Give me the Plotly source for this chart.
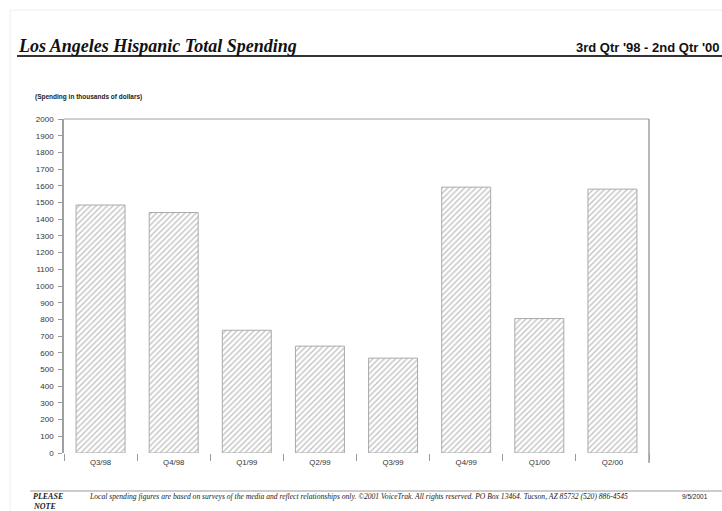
import plotly.graph_objects as go

categories = ["Q3/98", "Q4/98", "Q1/99", "Q2/99", "Q3/99", "Q4/99", "Q1/00", "Q2/00"]
spending = [1485, 1440, 735, 640, 568, 1592, 805, 1580]
y_ticks = list(range(0, 2001, 100))

W, H = 722, 511
L, R, T, B = 64, 73, 119, 58
PW, PH = W - L - R, H - T - B

fig = go.Figure()
fig.add_trace(go.Bar(
    x=categories, y=spending,
    marker=dict(
        color="white",
        line=dict(color="#aaaaaa", width=1),
        pattern=dict(shape="/", fgcolor="#888888", bgcolor="white", size=4, solidity=0.35),
    ),
    width=0.67,
    hoverinfo="skip",
))


def ax(xpx, ypx):
    return (xpx - L) / PW, 1 - (ypx - T) / PH


def hline(x0px, x1px, ypx, color, width):
    xa, ya = ax(x0px, ypx)
    xb, _ = ax(x1px, ypx)
    return dict(type="line", xref="paper", yref="paper", x0=xa, x1=xb, y0=ya, y1=ya,
                line=dict(color=color, width=width))


def vline(xpx, y0px, y1px, color, width):
    xa, ya = ax(xpx, y0px)
    _, yb = ax(xpx, y1px)
    return dict(type="line", xref="paper", yref="paper", x0=xa, x1=xa, y0=ya, y1=yb,
                line=dict(color=color, width=width))


shapes = [
    hline(10, W, 10, "#eeeeee", 1),
    vline(10, 10, H, "#eeeeee", 1),
    hline(17, W, 56, "#333333", 2),
    hline(L, W - R, T, "#a0a0a0", 1),
    vline(W - R, T, H - B + 10, "#a0a0a0", 1.5),
    hline(30, W, 491, "#999999", 1),
]

annotations = []


def add_text(text, xpx, ypx, size, family, color="#111111", xanchor="left", yanchor="middle"):
    x, y = ax(xpx, ypx)
    annotations.append(dict(text=text, x=x, y=y, xref="paper", yref="paper", showarrow=False,
                            xanchor=xanchor, yanchor=yanchor,
                            font=dict(size=size, family=family, color=color)))


add_text("<b><i>Los Angeles Hispanic Total Spending</i></b>", 16, 46, 18, "Liberation Serif, DejaVu Serif")
add_text("<b>3rd Qtr '98 - 2nd Qtr '00</b>", 721, 47, 13, "Liberation Sans, Arial", xanchor="right")
add_text("<b>(Spending in thousands of dollars)</b>", 33, 97, 6.5, "Liberation Sans, Arial", color="#222222")
add_text("<b><i>PLEASE</i></b>", 31, 496, 8, "Liberation Serif, DejaVu Serif", color="#222222")
add_text("<b><i>NOTE</i></b>", 31, 506, 8, "Liberation Serif, DejaVu Serif", color="#222222")
add_text("<i>Local spending figures are based on surveys of the media and reflect relationships only. ©2001 VoiceTrak. All rights reserved. PO Box 13464. Tucson, AZ 85732 (520) 886-4545</i>",
         87, 496, 7.6, "Liberation Serif, DejaVu Serif", color="#222222")
add_text("9/5/2001", 710, 496, 6.5, "Liberation Sans, Arial", color="#222222", xanchor="right")

fig.update_layout(
    width=W, height=H,
    margin=dict(l=L, r=R, t=T, b=B, pad=0),
    paper_bgcolor="white", plot_bgcolor="white",
    showlegend=False,
    bargap=0.33,
    shapes=shapes,
    annotations=annotations,
    xaxis=dict(
        tickfont=dict(size=7.8, family="Liberation Sans, Arial", color="#333333"),
        ticks="outside", tickson="boundaries", ticklen=7, tickcolor="#999999",
        ticklabelstandoff=3,
        showline=False, showgrid=False, zeroline=False,
    ),
    yaxis=dict(
        range=[0, 2000], tickvals=y_ticks, ticktext=[str(v) for v in y_ticks],
        tickfont=dict(size=8, family="Liberation Sans, Arial", color="#333333"),
        ticks="outside", ticklen=4, tickcolor="#999999",
        showline=True, linecolor="#a0a0a0", linewidth=1.5,
        showgrid=False, zeroline=False, ticklabelstandoff=3,
    ),
)

fig.write_html("out.html", config={"displayModeBar": False},
               post_script="document.body.style.margin='0';document.body.style.padding='0';")
